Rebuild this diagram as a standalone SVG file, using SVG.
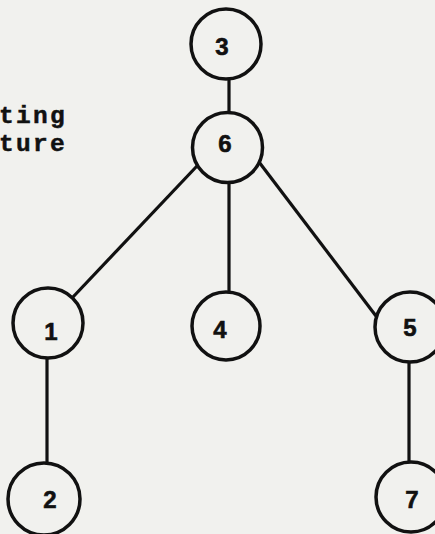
<svg xmlns="http://www.w3.org/2000/svg" width="435" height="534" viewBox="0 0 435 534">
<style>
.n{fill:none;stroke:#111;stroke-width:3.5}
.d{font-family:"Liberation Sans",Arial,sans-serif;font-weight:bold;font-size:24px;fill:#111;text-anchor:middle;stroke:#111;stroke-width:0.6}
.e{stroke:#111;stroke-width:3.2;fill:none}
.t{font-family:"Liberation Mono","Courier New",monospace;font-weight:bold;font-size:24.5px;letter-spacing:2.3px;fill:#111;stroke:#111;stroke-width:0.5}
</style>
<rect width="435" height="534" fill="#f1f1ee"/>
<text class="t" x="-1" y="123">ting</text>
<text class="t" x="-1" y="151">ture</text>
<g id="edges">
<line class="e" x1="229" y1="79" x2="229" y2="112"/>
<line class="e" x1="197" y1="166" x2="73" y2="297"/>
<line class="e" x1="229" y1="183" x2="229" y2="291"/>
<line class="e" x1="259" y1="162" x2="376" y2="316"/>
<line class="e" x1="47" y1="358" x2="47" y2="463"/>
<line class="e" x1="409" y1="362" x2="409" y2="462"/>
</g>
<g id="node3"><circle class="n" cx="226" cy="44" r="35"/><text class="d" x="222" y="55">3</text></g>
<g id="node6"><circle class="n" cx="227.5" cy="147.5" r="35"/><text class="d" x="225" y="152">6</text></g>
<g id="node1"><circle class="n" cx="48" cy="323" r="35"/><text class="d" x="51" y="340">1</text></g>
<g id="node4"><circle class="n" cx="226" cy="326" r="34"/><text class="d" x="220" y="338">4</text></g>
<g id="node5"><circle class="n" cx="410" cy="327" r="35"/><text class="d" x="410" y="336">5</text></g>
<g id="node2"><circle class="n" cx="44" cy="499" r="36"/><text class="d" x="50" y="508">2</text></g>
<g id="node7"><circle class="n" cx="411" cy="497" r="35"/><text class="d" x="412" y="508">7</text></g>
</svg>
